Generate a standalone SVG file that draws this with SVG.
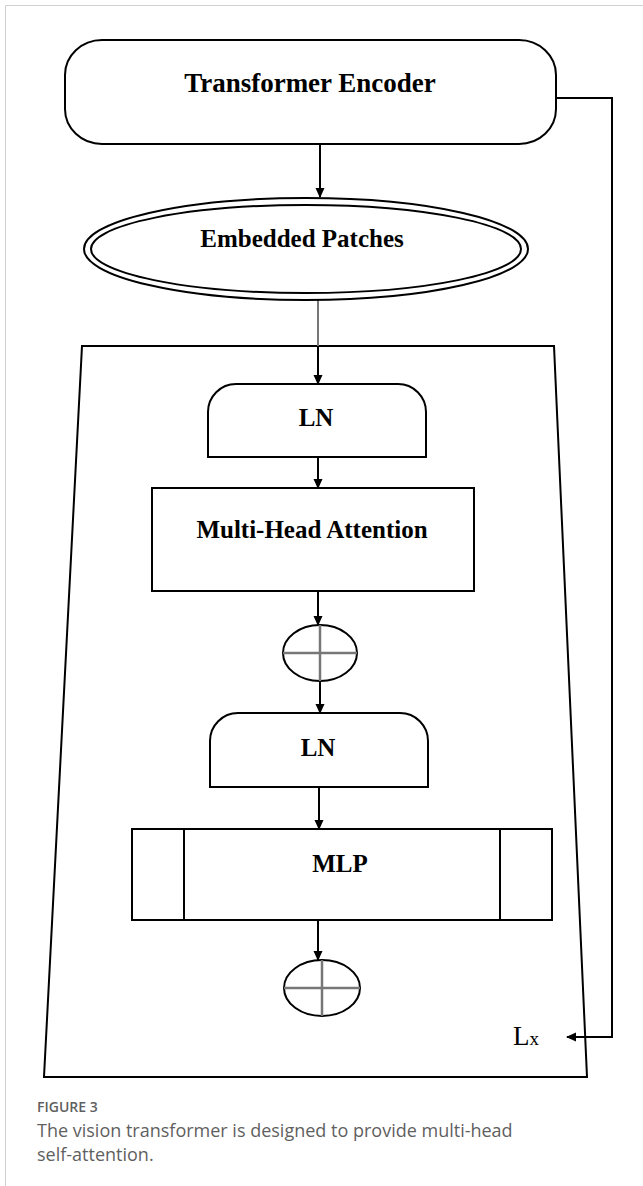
<svg xmlns="http://www.w3.org/2000/svg" width="643" height="1186" viewBox="0 0 643 1186">
<defs>
<style>
.box{fill:#fff;stroke:#000;stroke-width:2}
.lbl{font-family:"Liberation Serif","Times New Roman",serif;font-weight:bold;fill:#000;text-anchor:middle}
.conn{fill:none;stroke:#000;stroke-width:2}
.cross{stroke:#777;stroke-width:2.5}
.cap{font-family:"Open Sans","Noto Sans",sans-serif;fill:#5f5f5f}
</style>
<marker id="ah" markerWidth="10" markerHeight="10" refX="9" refY="5" orient="auto" markerUnits="userSpaceOnUse">
<path d="M0,0.5 L10,5 L0,9.5 Z" fill="#000"/>
</marker>
</defs>
<rect width="643" height="1186" fill="#fff"/>
<path d="M5.5,1186 V5.5 H643" fill="none" stroke="#d0d0d0" stroke-width="1"/>

<g id="frame">
<polygon points="82,346 554,346 587,1077 44,1077" fill="none" stroke="#000" stroke-width="2"/>
</g>

<g id="connectors">
<line class="conn" x1="320" y1="144" x2="320" y2="197" marker-end="url(#ah)"/>
<line x1="318" y1="300" x2="318" y2="346" stroke="#777" stroke-width="2"/>
<line class="conn" x1="318" y1="346" x2="318" y2="384" marker-end="url(#ah)"/>
<line class="conn" x1="318" y1="457" x2="318" y2="488" marker-end="url(#ah)"/>
<line class="conn" x1="318" y1="591" x2="318" y2="625" marker-end="url(#ah)"/>
<line class="conn" x1="320" y1="681" x2="320" y2="713" marker-end="url(#ah)"/>
<line class="conn" x1="319" y1="787" x2="319" y2="829" marker-end="url(#ah)"/>
<line class="conn" x1="318" y1="920" x2="318" y2="960" marker-end="url(#ah)"/>
<polyline class="conn" points="556,98 612,98 612,1037 567,1037" marker-end="url(#ah)"/>
</g>

<g id="transformer-encoder">
<rect class="box" x="65" y="40" width="491" height="104" rx="37" ry="35"/>
<text class="lbl" x="310" y="92" font-size="27">Transformer Encoder</text>
</g>

<g id="embedded-patches">
<ellipse cx="306" cy="249" rx="222" ry="51" fill="#fff" stroke="#000" stroke-width="2"/>
<ellipse cx="306" cy="249" rx="215" ry="44" fill="none" stroke="#000" stroke-width="2"/>
<text class="lbl" x="302" y="247" font-size="25">Embedded Patches</text>
</g>

<g id="ln1">
<path class="box" d="M208,457 V412 A28,28 0 0 1 236,384 H398 A28,28 0 0 1 426,412 V457 Z"/>
<text class="lbl" x="316" y="426" font-size="25">LN</text>
</g>

<g id="mha">
<rect class="box" x="152" y="488" width="322" height="103"/>
<text class="lbl" x="312" y="538" font-size="25">Multi-Head Attention</text>
</g>

<g id="add1">
<ellipse cx="320" cy="653" rx="37" ry="28" fill="#fff" stroke="#000" stroke-width="2"/>
<line class="cross" x1="283" y1="653" x2="357" y2="653"/>
<line class="cross" x1="320" y1="625" x2="320" y2="681"/>
</g>

<g id="ln2">
<path class="box" d="M210,787 V741 A28,28 0 0 1 238,713 H400 A28,28 0 0 1 428,741 V787 Z"/>
<text class="lbl" x="318" y="756" font-size="25">LN</text>
</g>

<g id="mlp">
<rect class="box" x="132" y="829" width="420" height="91"/>
<line x1="184" y1="829" x2="184" y2="920" stroke="#000" stroke-width="2"/>
<line x1="500" y1="829" x2="500" y2="920" stroke="#000" stroke-width="2"/>
<text class="lbl" x="340" y="872" font-size="25">MLP</text>
</g>

<g id="add2">
<ellipse cx="322" cy="988" rx="38" ry="28" fill="#fff" stroke="#000" stroke-width="2"/>
<line class="cross" x1="284" y1="988" x2="360" y2="988"/>
<line class="cross" x1="322" y1="960" x2="322" y2="1016"/>
</g>

<g id="lx">
<text x="513" y="1045" font-family="Liberation Serif, Times New Roman, serif" font-size="27" fill="#000">L<tspan font-size="19">x</tspan></text>
</g>

<g id="caption">
<text class="cap" x="37" y="1112" font-size="14" font-weight="600" fill="#6b6b6b">FIGURE 3</text>
<text class="cap" x="37" y="1137" font-size="18">The vision transformer is designed to provide multi-head</text>
<text class="cap" x="37" y="1161" font-size="18">self-attention.</text>
</g>
</svg>
